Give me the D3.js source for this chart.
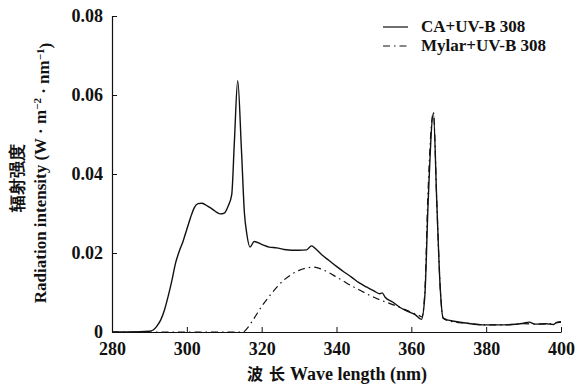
<!DOCTYPE html>
<html>
<head>
<meta charset="utf-8">
<script src="https://cdn.jsdelivr.net/npm/d3@7"></script>
<style>
  body { margin: 0; background: #fff; }
  svg { display: block; }
  text { font-family: "Times New Roman", "Liberation Serif", "DejaVu Serif", serif; fill: #111; }
</style>
</head>
<body>
<div id="chart"></div>
<script>
// wavelength (nm) / irradiance pairs
const caWave = [280, 285, 290, 291, 292, 293, 294, 295, 296, 297, 298, 299, 300, 301, 302, 303, 304, 305, 306, 307, 308, 309, 310, 311, 312, 312.7, 313.6, 314.6, 315.4, 316, 316.9, 318, 320, 322, 324, 326, 328, 330, 332, 333.3, 334.5, 336, 338, 340, 342, 344, 346, 348, 350, 351.5, 352.2, 353, 355, 357, 359, 361, 362.7, 363.6, 364.5, 365.9, 366.8, 367.7, 368.5, 369.9, 371, 375, 379, 383, 387, 390, 391.5, 393, 396, 398, 399, 400];
const caValues = [0, 0, 0.0002, 0.0005, 0.0015, 0.003, 0.0055, 0.009, 0.013, 0.0175, 0.0205, 0.023, 0.026, 0.029, 0.0315, 0.0325, 0.0326, 0.0322, 0.0316, 0.031, 0.0303, 0.0299, 0.0301, 0.0318, 0.0348, 0.048, 0.0636, 0.046, 0.03, 0.025, 0.0215, 0.0229, 0.0222, 0.0215, 0.0213, 0.0209, 0.0207, 0.0207, 0.0208, 0.0218, 0.021, 0.0196, 0.0181, 0.0166, 0.0152, 0.0139, 0.0125, 0.0114, 0.0104, 0.0097, 0.0099, 0.0088, 0.0076, 0.0062, 0.0052, 0.0044, 0.0032, 0.009, 0.033, 0.0554, 0.033, 0.0115, 0.0035, 0.003, 0.0028, 0.0022, 0.0018, 0.0018, 0.0019, 0.0022, 0.0025, 0.002, 0.0021, 0.0019, 0.0025, 0.0026];

const mylarWave = [280, 300, 310, 315, 316, 318, 320, 322, 324, 326, 328, 330, 332, 334, 336, 338, 340, 342, 344, 346, 348, 350, 352, 354, 356, 358, 360, 362, 362.8, 363.6, 364.4, 365.9, 366.8, 367.7, 368.5, 370, 375, 380, 385, 390, 395, 400];
const mylarValues = [0, 0, 0, 0, 0.0008, 0.0035, 0.0065, 0.009, 0.0113, 0.0132, 0.0146, 0.0156, 0.0162, 0.0164, 0.0159, 0.015, 0.0139, 0.0128, 0.0117, 0.0107, 0.0097, 0.0088, 0.008, 0.0073, 0.0066, 0.0058, 0.005, 0.0042, 0.0038, 0.01, 0.034, 0.0556, 0.033, 0.0115, 0.0035, 0.0028, 0.0022, 0.0018, 0.0018, 0.0021, 0.002, 0.0025];

const xTicks = [280, 300, 320, 340, 360, 380, 400];
const yTicks = [0, 0.02, 0.04, 0.06, 0.08];
const seriesNames = ["CA+UV-B 308", "Mylar+UV-B 308"];

const serif = '"Times New Roman", "Liberation Serif", "DejaVu Serif", serif';
const cjk = '"Noto Sans CJK SC", sans-serif';

const width = 576, height = 387;
const margin = {top: 16, right: 15, bottom: 55, left: 112};

const svg = d3.select('#chart')
  .append('svg')
  .attr('width', width)
  .attr('height', height);

const x = d3.scaleLinear().domain([280, 400]).range([margin.left, width - margin.right]);
const y = d3.scaleLinear().domain([0, 0.08]).range([height - margin.bottom, margin.top]);

// axes, ticks pointing inward
const xAxis = svg.append('g')
  .attr('transform', `translate(0,${height - margin.bottom})`)
  .call(d3.axisBottom(x).tickValues(xTicks).tickSizeInner(-5).tickSizeOuter(0).tickPadding(8).tickFormat(d3.format('d')));

const yAxis = svg.append('g')
  .attr('transform', `translate(${margin.left},0)`)
  .call(d3.axisLeft(y).tickValues(yTicks).tickSizeInner(-5).tickSizeOuter(0).tickPadding(9)
    .tickFormat(d => d === 0 ? '0' : d3.format('.2f')(d)));

[xAxis, yAxis].forEach(a => {
  a.attr('font-family', serif);
  a.select('.domain').attr('stroke', '#111').attr('stroke-width', 1.2);
  a.selectAll('.tick line').attr('stroke', '#111').attr('stroke-width', 1);
  a.selectAll('.tick text')
    .attr('font-family', serif)
    .attr('font-weight', 'bold')
    .attr('font-size', 18)
    .attr('fill', '#111');
});
xAxis.selectAll('.tick text').attr('dy', '0.85em');

const line = d3.line()
  .x(d => x(d[0]))
  .y(d => y(d[1]))
  .curve(d3.curveMonotoneX);

const caData = d3.zip(caWave, caValues);
const mylarData = d3.zip(mylarWave, mylarValues);

svg.append('path')
  .datum(mylarData)
  .attr('fill', 'none')
  .attr('stroke', '#111')
  .attr('stroke-width', 1.2)
  .attr('stroke-dasharray', '7,4,1.5,4')
  .attr('d', line);

svg.append('path')
  .datum(caData)
  .attr('fill', 'none')
  .attr('stroke', '#111')
  .attr('stroke-width', 1.4)
  .attr('stroke-linejoin', 'round')
  .attr('d', line);

// legend
const legend = svg.append('g');
seriesNames.forEach((name, i) => {
  const ly = 27 + i * 19;
  legend.append('line')
    .attr('x1', 383).attr('x2', 408)
    .attr('y1', ly).attr('y2', ly)
    .attr('stroke', '#111')
    .attr('stroke-width', 1.2)
    .attr('stroke-dasharray', i === 0 ? null : '7,4,1.5,4');
  legend.append('text')
    .attr('x', 421).attr('y', ly + 5)
    .attr('font-family', serif)
    .attr('font-size', 17)
    .attr('font-weight', 'bold')
    .text(name);
});

// x axis title
const xt = svg.append('text')
  .attr('x', 337).attr('y', 380)
  .attr('text-anchor', 'middle')
  .attr('font-family', serif)
  .attr('font-weight', 'bold');
xt.append('tspan').attr('font-family', cjk).attr('font-size', 16).text('波');
xt.append('tspan').attr('dx', 6).attr('font-family', cjk).attr('font-size', 16).text('长');
xt.append('tspan').attr('dx', 5).attr('font-size', 18).text('Wave length (nm)');

// y axis title (two lines)
svg.append('text')
  .attr('transform', 'translate(23,178) rotate(-90)')
  .attr('text-anchor', 'middle')
  .attr('font-family', cjk)
  .attr('font-weight', 'bold')
  .attr('font-size', 17)
  .text('辐射强度');

const yt = svg.append('text')
  .attr('transform', 'translate(46,173) rotate(-90)')
  .attr('text-anchor', 'middle')
  .attr('font-family', serif)
  .attr('font-weight', 'bold')
  .attr('font-size', 17);
yt.append('tspan').text('Radiation intensity (W · m');
yt.append('tspan').attr('dy', '-0.45em').attr('font-size', 11).text('−2');
yt.append('tspan').attr('dy', '0.45em').text(' · nm');
yt.append('tspan').attr('dy', '-0.45em').attr('font-size', 11).text('−1');
yt.append('tspan').attr('dy', '0.45em').text(')');
</script>
</body>
</html>
